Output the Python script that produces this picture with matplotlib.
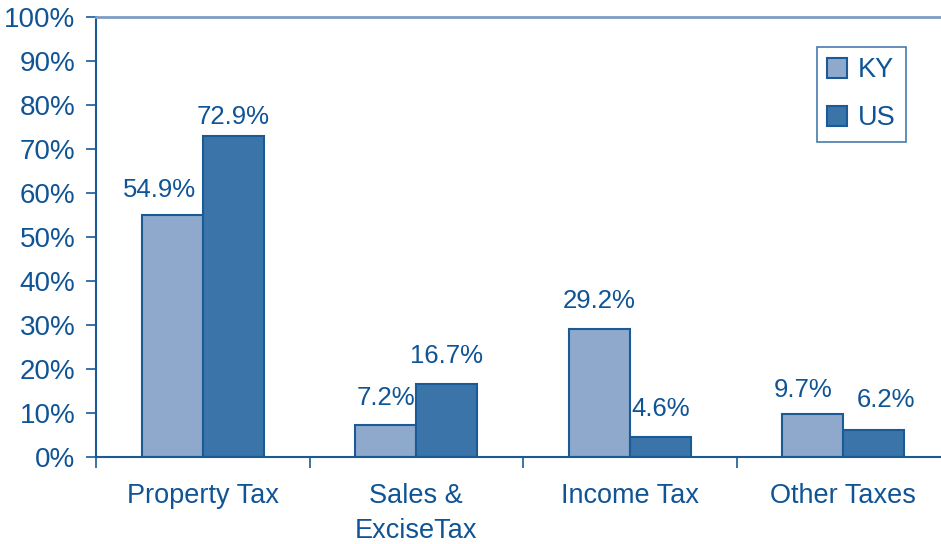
import matplotlib
matplotlib.use("Agg")
import matplotlib.pyplot as plt
import numpy as np

categories = ["Property Tax", "Sales &\nExciseTax", "Income Tax", "Other Taxes"]
ky_values = [54.9, 7.2, 29.2, 9.7]
us_values = [72.9, 16.7, 4.6, 6.2]
series_names = ["KY", "US"]
yticks = [0, 10, 20, 30, 40, 50, 60, 70, 80, 90, 100]

# value-label placement (offsets in points, style only)
ky_label_off = [(-9.4, 9.8), (0, 11.2), (0, 11.2), (-7.0, 9.0)]
us_label_off = [(0, 5.5), (0, 11.0), (0, 11.0), (8.6, 12.7)]

plt.rcParams['font.family'] = ['Liberation Sans', 'DejaVu Sans']
txt = '#0f5495'
edge = '#1a5a97'
c_ky = '#8fa9cc'
c_us = '#3a74a8'

fig = plt.figure(figsize=(9.41, 5.44), dpi=100)
ax = fig.add_axes([96/941, 1-457/544, (950-96)/941, 440/544])

x = np.arange(len(categories))
w = 0.286
ax.bar(x - w/2, ky_values, w, color=c_ky, edgecolor=edge, linewidth=1.5, label=series_names[0])
ax.bar(x + w/2, us_values, w, color=c_us, edgecolor=edge, linewidth=1.5, label=series_names[1])

for i, (a, b) in enumerate(zip(ky_values, us_values)):
    ax.annotate(f"{a:.1f}%", (x[i] - w/2, a), xytext=ky_label_off[i], textcoords='offset points',
                ha='center', va='bottom', fontsize=18.5, color=txt)
    ax.annotate(f"{b:.1f}%", (x[i] + w/2, b), xytext=us_label_off[i], textcoords='offset points',
                ha='center', va='bottom', fontsize=18.5, color=txt)

ax.set_xlim(-0.5, len(categories) - 0.5)
ax.set_ylim(0, 100)
ax.set_yticks(yticks)
ax.set_yticklabels([f"{v}%" for v in yticks])
ax.set_xticks(x)
ax.set_xticklabels(categories)
ax.set_xticks(np.arange(len(categories) + 1) - 0.5, minor=True)
ax.tick_params(axis='x', which='major', length=0, pad=19, labelsize=19.5, labelcolor=txt)
ax.tick_params(axis='x', which='minor', length=8, width=1.2, color=edge, direction='out')
ax.tick_params(axis='y', length=7, width=1.2, color=edge, pad=8, labelsize=20, labelcolor=txt)
for lab in ax.get_xticklabels():
    lab.set_linespacing(1.45)

for s in ['left', 'bottom']:
    ax.spines[s].set_color(edge)
    ax.spines[s].set_linewidth(1.5)
ax.spines['right'].set_visible(False)
ax.spines['top'].set_color('#7f9cc6')
ax.spines['top'].set_linewidth(2.0)

leg = ax.legend(loc='upper right', bbox_to_anchor=((906-96)/(950-96), (457-47)/440),
                fontsize=19.5, frameon=True, fancybox=False, edgecolor=edge,
                handlelength=0.75, handleheight=0.75, labelspacing=0.82, borderpad=0.38,
                handletextpad=0.4, borderaxespad=0)
leg.get_frame().set_linewidth(1.2)
for t in leg.get_texts():
    t.set_color(txt)

fig.savefig("out.png", dpi=100)
